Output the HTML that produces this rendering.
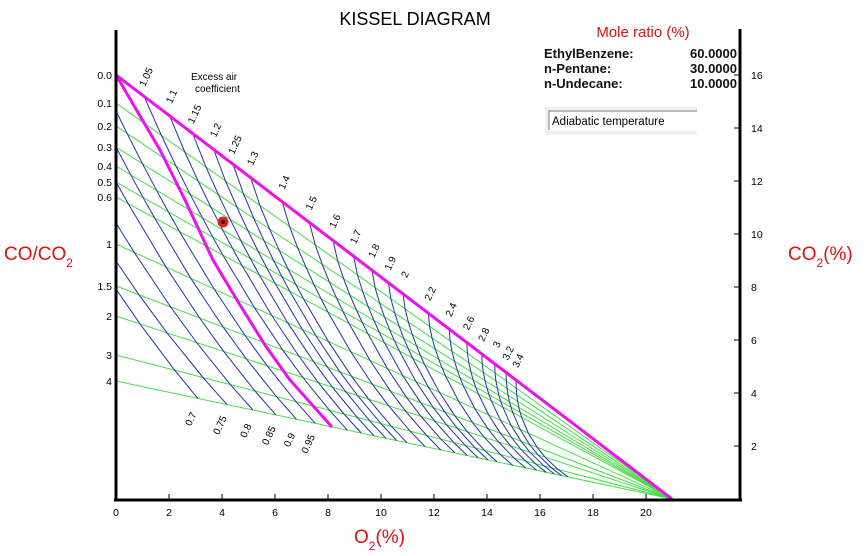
<!DOCTYPE html>
<html><head><meta charset="utf-8"><style>
html,body{margin:0;padding:0;background:#fff;}
svg{display:block;font-family:"Liberation Sans",sans-serif;}
</style></head><body>
<svg id="s" width="867" height="556" xmlns="http://www.w3.org/2000/svg">
<rect width="867" height="556" fill="#fff"/>
<text x="415" y="25" font-size="18" text-anchor="middle">KISSEL DIAGRAM</text>
<text x="643" y="37" font-size="15" fill="#dd1111" text-anchor="middle">Mole ratio (%)</text>
<g font-size="13" font-weight="bold" fill="#111">
<text x="544" y="58">EthylBenzene:</text><text x="737" y="58" text-anchor="end">60.0000</text>
<text x="544" y="73">n-Pentane:</text><text x="737" y="73" text-anchor="end">30.0000</text>
<text x="544" y="88">n-Undecane:</text><text x="737" y="88" text-anchor="end">10.0000</text>
</g>
<rect x="545" y="107" width="152" height="28" fill="#f0f0f0"/>
<rect x="549" y="111" width="148" height="20" fill="#fff"/>
<path d="M549 130V111H697" stroke="#777" fill="none" stroke-width="1"/>
<text x="552" y="125" font-size="11.5">Adiabatic temperature</text>
<text x="191" y="80" font-size="10">Excess air</text>
<text x="195" y="92" font-size="10">coefficient</text>
<g id="plot"></g>
<g stroke="#000" stroke-width="3" fill="none">
<path d="M116 30V501"/><path d="M740 29V501"/><path d="M114 500H742"/>
</g>
<g id="ax" font-size="10.5"></g>
<text x="4" y="260" font-size="19" fill="#dd1111">CO/CO<tspan font-size="12" dy="7">2</tspan></text>
<text x="788" y="260" font-size="19" fill="#dd1111">CO<tspan font-size="12" dy="7">2</tspan><tspan dy="-7">(%)</tspan></text>
<text x="354" y="543" font-size="19" fill="#dd1111">O<tspan font-size="12" dy="7">2</tspan><tspan dy="-7">(%)</tspan></text>
<circle cx="223" cy="222" r="5.5" fill="#dd2222"/><circle cx="223" cy="222" r="2" fill="#300"/>
</svg>
<script>
var NS="http://www.w3.org/2000/svg",plot=document.getElementById('plot'),ax=document.getElementById('ax');
function el(p,t,a,txt){var e=document.createElementNS(NS,t);for(var k in a)e.setAttribute(k,a[k]);if(txt!=null)e.textContent=txt;p.appendChild(e);return e;}
var PX=672,PY=499;
var greens=[[0.1,103],[0.2,126],[0.3,147],[0.4,166],[0.5,182],[0.6,197],[1,244],[1.5,286],[2,316],[3,355],[4,381]];
greens.forEach(function(g){el(plot,'line',{x1:116,y1:g[1],x2:PX,y2:PY,stroke:'#44dd44','stroke-width':1});
 el(ax,'text',{x:112,y:g[1]+4,'text-anchor':'end'},g[0]<1?g[0].toFixed(1):String(g[0]));});
el(ax,'text',{x:112,y:79,'text-anchor':'end'},'0.0');
function gy(yL,X){return yL+(X-116)*(PY-yL)/(PX-116);}
function bot(l){return 116+26.5*(21-13.65/(l+0.062));}
var lam=[1.05,1.1,1.15,1.2,1.25,1.3,1.4,1.5,1.6,1.7,1.8,1.9,2,2.2,2.4,2.6,2.8,3,3.2,3.4];
lam.forEach(function(l){
 var o2=(l-1)*1.405/(1+5.283*l+1.405*(l-1))*100;
 var Xt=116+26.5*o2, yt=gy(75,Xt), Xb=bot(l), p=1+0.6*(l-1);
 var pts=[[Xt,yt]];
 greens.forEach(function(g){var u=(g[1]-75)/306;var X=Xt+(Xb-Xt)*Math.pow(u,p);pts.push([X,gy(g[1],X)]);});
 el(plot,'polyline',{points:pts.map(function(q){return q[0].toFixed(1)+','+q[1].toFixed(1)}).join(' '),fill:'none',stroke:'#2233aa','stroke-width':1});
 var lx=Xt+5,ly=yt-18;
 el(plot,'text',{x:lx,y:ly,'font-size':10,'text-anchor':'middle',transform:'rotate(-65 '+lx+' '+ly+')'},String(l));
});
var sub=[[0.95,111],[0.9,147],[0.85,182],[0.8,223],[0.75,261],[0.7,289]];
sub.forEach(function(s){
 var l=s[0],ys=s[1],us=(ys-75)/306,Xb=bot(l),pts=[[116,ys]];
 greens.forEach(function(g){if(g[1]<=ys)return;var u=(g[1]-75)/306;var X=116+(Xb-116)*(u-us)/(1-us);pts.push([X,gy(g[1],X)]);});
 el(plot,'polyline',{points:pts.map(function(q){return q[0].toFixed(1)+','+q[1].toFixed(1)}).join(' '),fill:'none',stroke:'#2233aa','stroke-width':1});
 var lx=Xb-4,ly=gy(381,Xb)+22;
 el(plot,'text',{x:lx,y:ly,'font-size':10,'text-anchor':'middle',transform:'rotate(-65 '+lx+' '+ly+')'},String(l));
});
el(plot,'polyline',{points:'116,75 160,150 185,200 213,260 240,305 265,345 290,380 332,427',fill:'none',stroke:'#ee11ee','stroke-width':3});
el(plot,'line',{x1:116,y1:75,x2:PX,y2:PY,stroke:'#ee11ee','stroke-width':3});
for(var i=0;i<=20;i+=2){var x=116+26.5*i;el(ax,'line',{x1:x,y1:494,x2:x,y2:499,stroke:'#000'});el(ax,'text',{x:x,y:516,'text-anchor':'middle'},String(i));}
for(var j=2;j<=16;j+=2){var y=499-26.5*j;el(ax,'line',{x1:734,y1:y,x2:739,y2:y,stroke:'#000'});el(ax,'text',{x:751,y:y+4},String(j));}
</script>
</body></html>
